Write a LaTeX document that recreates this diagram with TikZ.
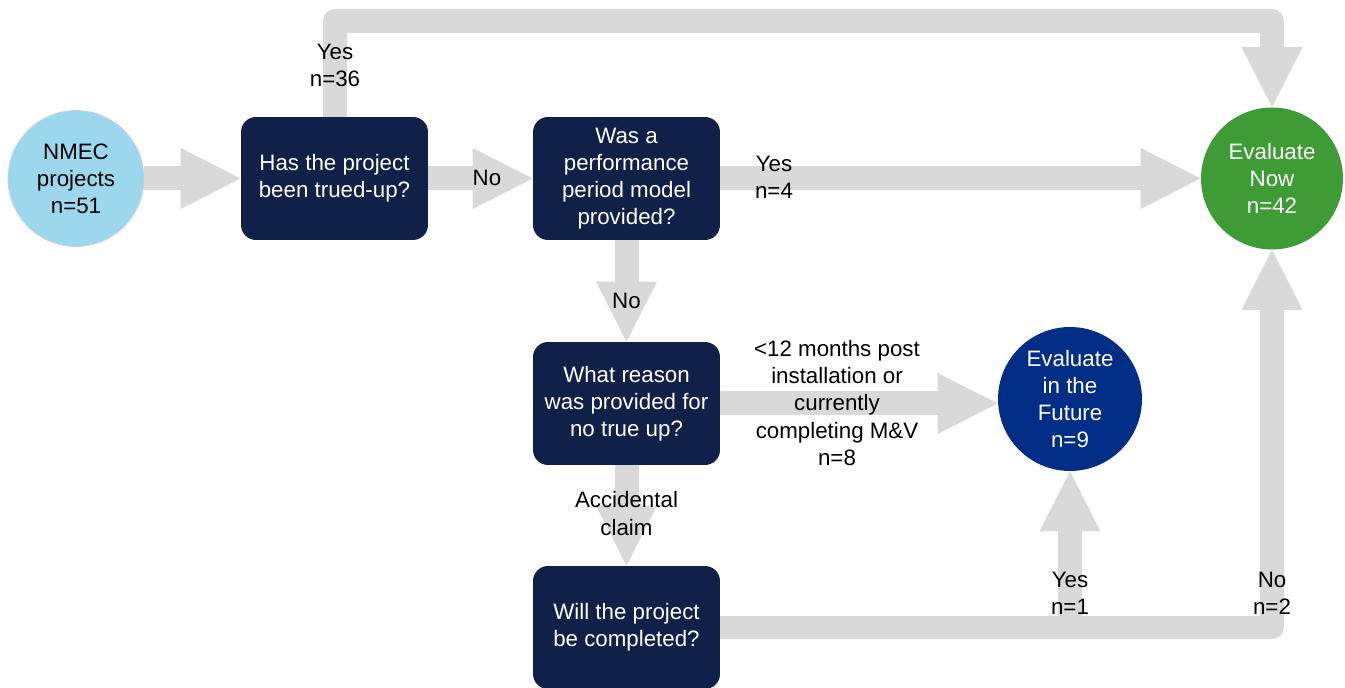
\documentclass[tikz,border=0pt]{standalone}
\usepackage{fontspec}
\setmainfont{Liberation Sans}
\usetikzlibrary{arrows.meta}
\definecolor{navy}{RGB}{17,32,73}
\definecolor{flowgray}{RGB}{217,217,217}
\definecolor{nowgreen}{RGB}{63,155,54}
\definecolor{futureblue}{RGB}{0,46,134}
\definecolor{startblue}{RGB}{155,216,238}

\begin{document}
\begin{tikzpicture}[x=0.02cm, y=-0.02cm,
        every node/.style={align=center, font=\fontsize{12.7}{15.4}\selectfont},
        box/.style={fill=navy, text=white, rounded corners=0.3cm, minimum width=3.74cm, minimum height=2.46cm, inner sep=0pt},
        endpt/.style={circle, text=white, minimum size=2.84cm, inner sep=0pt},
        flow/.style={draw=flowgray, line width=0.48cm, line join=round, -{Triangle[length=1.2cm, width=1.22cm, line width=0pt]}}
      ]
        \useasboundingbox (0,0) rectangle (1345,688);
        \node[endpt, fill=startblue, draw=black!18, text=black, minimum size=2.72cm] (start) at (76,178.5) {NMEC\\projects\\n=51};
        \node[box] (trued) at (334.5,178.5) {Has the project\\been trued-up?};
        \node[box] (model) at (626.5,178.5) {Was a\\performance\\period model\\provided?};
        \node[box] (reason) at (626.5,403.5) {What reason\\was provided for\\no true up?};
        \node[box] (complete) at (626.5,627.5) {Will the project\\be completed?};
        \node[endpt, fill=nowgreen] (now) at (1272,178.5) {Evaluate\\Now\\n=42};
        \node[endpt, fill=futureblue, minimum size=2.88cm] (future) at (1070,399) {Evaluate\\in the\\Future\\n=9};

        % flow arrows
        \coordinate (top) at (0,21);
        \draw[flow] (start) -- (trued);
        \draw[flow] (trued) -- (model);
        \draw[flow] (model) -- (now);
        \draw[flow] (trued.north) |- (now.north |- top) -- (now.north);
        \draw[flow] (model) -- (reason);
        \draw[flow] (reason.east) -- (reason.east -| future.west);
        \draw[flow] (reason) -- (complete);
        \draw[flow] (complete.east) -| (now.south);
        \draw[flow] (future.south |- complete.east) -- (future.south);

        % labels
        \node (yes36) at (335,65.5) {Yes\\n=36};
        \node (no1) at (487,178) {No};
        \node (yes4) at (774,177.5) {Yes\\n=4};
        \node (no2) at (626.5,301) {No};
        \node (wait) at (837,403) {<12 months post\\installation or\\currently\\completing M\&V\\n=8};
        \node (accident) at (626.5,513.5) {Accidental\\claim};
        \node (yes1) at (1070,593.5) {Yes\\n=1};
        \node (no3) at (1272,593.5) {No\\n=2};
      \end{tikzpicture}
\end{document}
